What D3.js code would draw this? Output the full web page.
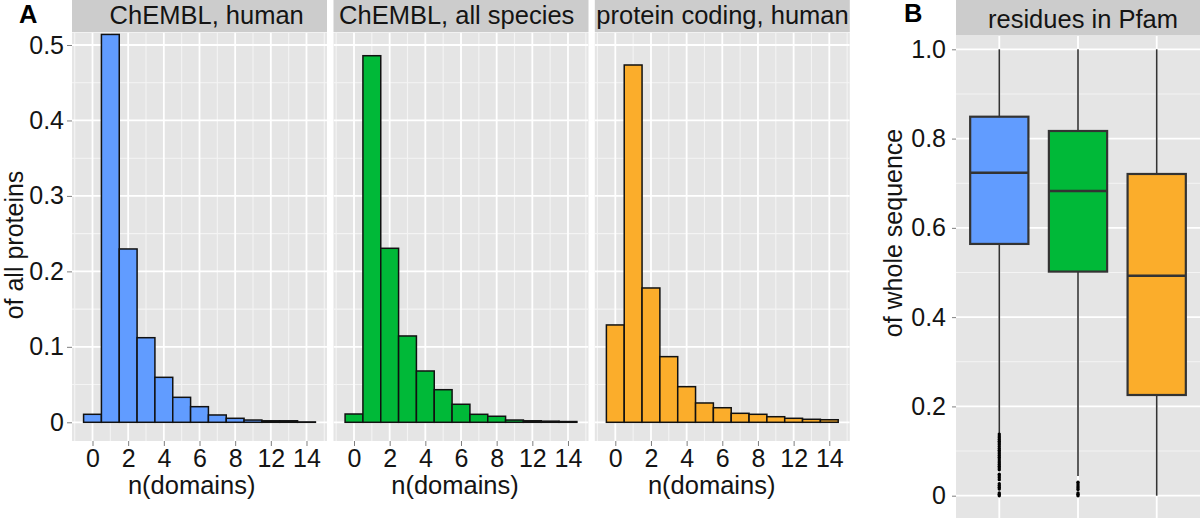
<!DOCTYPE html>
<html>
<head>
<meta charset="utf-8">
<script src="https://cdn.jsdelivr.net/npm/d3@7"></script>
<style>
  html, body { margin: 0; padding: 0; background: #fff; }
  svg { display: block; }
  text { font-family: "Liberation Sans", Arial, Helvetica, sans-serif; }
</style>
</head>
<body>
<svg id="chart" width="1200" height="518"></svg>
<script>
// ---------------- data ----------------
const bins = [0, 1, 2, 3, 4, 5, 6, 7, 8, 9, 10, 11, 12];
const xTickPos = [0, 2, 4, 6, 8, 10, 12];
const xTickLabels = ["0", "2", "4", "6", "8", "12", "14"];
const facetTitles = ["ChEMBL, human", "ChEMBL, all species", "protein coding, human"];
const histChemblHuman = [0.0106, 0.514, 0.2297, 0.1121, 0.0596, 0.0331, 0.0207, 0.0097, 0.0053, 0.003, 0.002, 0.002, 0.0005];
const histChemblAll = [0.011, 0.4858, 0.2306, 0.1144, 0.068, 0.0432, 0.0239, 0.0106, 0.008, 0.003, 0.002, 0.0015, 0.001];
const histProteinCoding = [0.129, 0.4735, 0.178, 0.087, 0.0472, 0.0256, 0.0193, 0.0119, 0.0106, 0.0074, 0.0053, 0.004, 0.0034];
const yTicksA = [0, 0.1, 0.2, 0.3, 0.4, 0.5];
const yTickLabelsA = ["0", "0.1", "0.2", "0.3", "0.4", "0.5"];
const seriesColors = ["#619CFF", "#00B938", "#FBAD2B"];

const boxGroups = ["ChEMBL, human", "ChEMBL, all species", "protein coding, human"];
const boxLower = [0.14, 0.044, 0.0];
const boxQ1 = [0.564, 0.502, 0.2256];
const boxMedian = [0.7236, 0.6826, 0.4928];
const boxQ3 = [0.849, 0.817, 0.7207];
const boxUpper = [1.0, 1.0, 1.0];
const outliersChemblHuman = [0.138, 0.134, 0.13, 0.126, 0.122, 0.118, 0.114, 0.11, 0.106, 0.102, 0.098, 0.094, 0.09, 0.086, 0.082, 0.078, 0.074, 0.07, 0.066, 0.062, 0.058, 0.048, 0.044, 0.04, 0.036, 0.027, 0.023, 0.019, 0.015, 0.006, 0.003, 0.0];
const outliersChemblAll = [0.03, 0.026, 0.022, 0.018, 0.014, 0.006, 0.003, 0.0];
const yTicksB = [0, 0.2, 0.4, 0.6, 0.8, 1.0];
const yTickLabelsB = ["0", "0.2", "0.4", "0.6", "0.8", "1.0"];

// ---------------- styles ----------------
const FONT = 25.5;
const TICKFONT = 25;
const panelBg = "#E5E5E5";
const stripBg = "#CCCCCC";
const minorCol = "#F4F4F4";
const textCol = "#141414";
const tickCol = "#7F7F7F";
const FF = '"Liberation Sans", Arial, sans-serif';

const svg = d3.select("#chart");

// ---------------- panel A ----------------
const panelTop = 32.5, panelBottom = 441;
const panelW = 255;
const panelLefts = [72, 333.5, 594.8];
const stripCenters = [206.7, 456.7, 722.5];
const xTitleCenters = [191.7, 455, 711.7];
const histSeries = [histChemblHuman, histChemblAll, histProteinCoding];

const yA = d3.scaleLinear().domain([0, 0.5]).range([422.3, 45]);

const yAxisA = d3.axisLeft(yA).tickValues(yTicksA)
  .tickFormat((d, i) => yTickLabelsA[i]).tickSize(5).tickPadding(3);
const gyA = svg.append("g").attr("transform", `translate(${panelLefts[0]},0)`).call(yAxisA);
gyA.select(".domain").remove();
gyA.selectAll("line").attr("stroke", tickCol);
gyA.selectAll("text").attr("font-size", TICKFONT).attr("fill", textCol).attr("font-family", FF);

svg.append("text")
  .attr("transform", "translate(23,245) rotate(-90)")
  .attr("text-anchor", "middle").attr("font-size", 25).attr("fill", textCol)
  .text("of all proteins");

svg.append("text").attr("x", 19).attr("y", 23)
  .attr("font-size", 25.5).attr("font-weight", "bold").attr("fill", "#000").text("A");

histSeries.forEach((vals, k) => {
  const left = panelLefts[k];
  const x = d3.scaleLinear().domain([-1.15, 13.15]).range([left, left + panelW]);
  const g = svg.append("g");

  g.append("rect").attr("x", left).attr("y", 0).attr("width", panelW).attr("height", panelTop - 0.5)
    .attr("fill", stripBg);
  g.append("text").attr("x", stripCenters[k]).attr("y", 23.5).attr("text-anchor", "middle")
    .attr("font-size", FONT).attr("fill", textCol).text(facetTitles[k]);

  g.append("rect").attr("x", left).attr("y", panelTop).attr("width", panelW)
    .attr("height", panelBottom - panelTop).attr("fill", panelBg);

  const clipId = "clipA" + k;
  svg.append("clipPath").attr("id", clipId).append("rect")
    .attr("x", left).attr("y", panelTop).attr("width", panelW).attr("height", panelBottom - panelTop);
  const inner = g.append("g").attr("clip-path", `url(#${clipId})`);

  const minorX = [-1, 1, 3, 5, 7, 9, 11, 13];
  const minorY = [0.05, 0.15, 0.25, 0.35, 0.45];
  inner.selectAll(".mx").data(minorX).join("line")
    .attr("x1", d => x(d)).attr("x2", d => x(d)).attr("y1", panelTop).attr("y2", panelBottom)
    .attr("stroke", minorCol).attr("stroke-width", 1.1);
  inner.selectAll(".my").data(minorY).join("line")
    .attr("x1", left).attr("x2", left + panelW).attr("y1", d => yA(d)).attr("y2", d => yA(d))
    .attr("stroke", minorCol).attr("stroke-width", 1.1);
  inner.selectAll(".Mx").data(xTickPos).join("line")
    .attr("x1", d => x(d)).attr("x2", d => x(d)).attr("y1", panelTop).attr("y2", panelBottom)
    .attr("stroke", "#fff").attr("stroke-width", 1.8);
  inner.selectAll(".My").data(yTicksA).join("line")
    .attr("x1", left).attr("x2", left + panelW).attr("y1", d => yA(d)).attr("y2", d => yA(d))
    .attr("stroke", "#fff").attr("stroke-width", 1.8);

  inner.selectAll(".bar").data(bins).join("rect")
    .attr("x", d => x(d - 0.5)).attr("width", d => x(d + 0.5) - x(d - 0.5))
    .attr("y", (d, i) => yA(vals[i])).attr("height", (d, i) => yA(0) - yA(vals[i]))
    .attr("fill", seriesColors[k]).attr("stroke", "#111").attr("stroke-width", 1.5);

  const xAxis = d3.axisBottom(x).tickValues(xTickPos)
    .tickFormat((d, i) => xTickLabels[i]).tickSize(5).tickPadding(3);
  const gx = svg.append("g").attr("transform", `translate(0,${panelBottom})`).call(xAxis);
  gx.select(".domain").remove();
  gx.selectAll("line").attr("stroke", tickCol);
  gx.selectAll("text").attr("font-size", TICKFONT).attr("fill", textCol).attr("font-family", FF);

  svg.append("text").attr("x", xTitleCenters[k]).attr("y", 494).attr("text-anchor", "middle")
    .attr("font-size", FONT).attr("fill", textCol).text("n(domains)");
});

// ---------------- panel B ----------------
const bLeft = 956, bRight = 1200, bTop = 36, bBottom = 518;
const yB = d3.scaleLinear().domain([0, 1]).range([495.7, 49.3]);
const xB = d3.scalePoint().domain(boxGroups).range([bLeft, bRight]).padding(0.55);
const boxW = 0.74 * xB.step();

svg.append("rect").attr("x", bLeft).attr("y", 0).attr("width", bRight - bLeft).attr("height", bTop - 0.5)
  .attr("fill", stripBg);
svg.append("text").attr("x", 1083).attr("y", 28.3).attr("text-anchor", "middle")
  .attr("font-size", FONT).attr("fill", textCol).text("residues in Pfam");
svg.append("rect").attr("x", bLeft).attr("y", bTop).attr("width", bRight - bLeft).attr("height", bBottom - bTop)
  .attr("fill", panelBg);

const gB = svg.append("g");
const minorYB = [0.1, 0.3, 0.5, 0.7, 0.9];
gB.selectAll(".myb").data(minorYB).join("line")
  .attr("x1", bLeft).attr("x2", bRight).attr("y1", d => yB(d)).attr("y2", d => yB(d))
  .attr("stroke", minorCol).attr("stroke-width", 1.1);
gB.selectAll(".Myb").data(yTicksB).join("line")
  .attr("x1", bLeft).attr("x2", bRight).attr("y1", d => yB(d)).attr("y2", d => yB(d))
  .attr("stroke", "#fff").attr("stroke-width", 1.8);
gB.selectAll(".Mxb").data(boxGroups).join("line")
  .attr("x1", d => xB(d)).attr("x2", d => xB(d)).attr("y1", bTop).attr("y2", bBottom)
  .attr("stroke", "#fff").attr("stroke-width", 1.8);

const yAxisB = d3.axisLeft(yB).tickValues(yTicksB)
  .tickFormat((d, i) => yTickLabelsB[i]).tickSize(4).tickPadding(6);
const gyB = svg.append("g").attr("transform", `translate(${bLeft},0)`).call(yAxisB);
gyB.select(".domain").remove();
gyB.selectAll("line").attr("stroke", tickCol);
gyB.selectAll("text").attr("font-size", TICKFONT).attr("fill", textCol).attr("font-family", FF);

svg.append("text")
  .attr("transform", "translate(902,233) rotate(-90)")
  .attr("text-anchor", "middle").attr("font-size", 25).attr("fill", textCol)
  .text("of whole sequence");
svg.append("text").attr("x", 904).attr("y", 22)
  .attr("font-size", 25.5).attr("font-weight", "bold").attr("fill", "#000").text("B");

const boxStroke = "#333333";
boxGroups.forEach((g, i) => {
  const cx = xB(g);
  gB.append("line").attr("x1", cx).attr("x2", cx).attr("y1", yB(boxUpper[i])).attr("y2", yB(boxQ3[i]))
    .attr("stroke", boxStroke).attr("stroke-width", 1.6);
  gB.append("line").attr("x1", cx).attr("x2", cx).attr("y1", yB(boxQ1[i])).attr("y2", yB(boxLower[i]))
    .attr("stroke", boxStroke).attr("stroke-width", 1.6);
  gB.append("rect").attr("x", cx - boxW / 2).attr("width", boxW)
    .attr("y", yB(boxQ3[i])).attr("height", yB(boxQ1[i]) - yB(boxQ3[i]))
    .attr("fill", seriesColors[i]).attr("stroke", boxStroke).attr("stroke-width", 2.2);
  gB.append("line").attr("x1", cx - boxW / 2).attr("x2", cx + boxW / 2)
    .attr("y1", yB(boxMedian[i])).attr("y2", yB(boxMedian[i]))
    .attr("stroke", boxStroke).attr("stroke-width", 2.4);
});

const outlierSets = [outliersChemblHuman, outliersChemblAll, []];
outlierSets.forEach((vals, i) => {
  gB.selectAll(".o" + i).data(vals).join("circle")
    .attr("cx", xB(boxGroups[i])).attr("cy", d => yB(d)).attr("r", 1.7).attr("fill", "#000");
});
</script>
</body>
</html>
